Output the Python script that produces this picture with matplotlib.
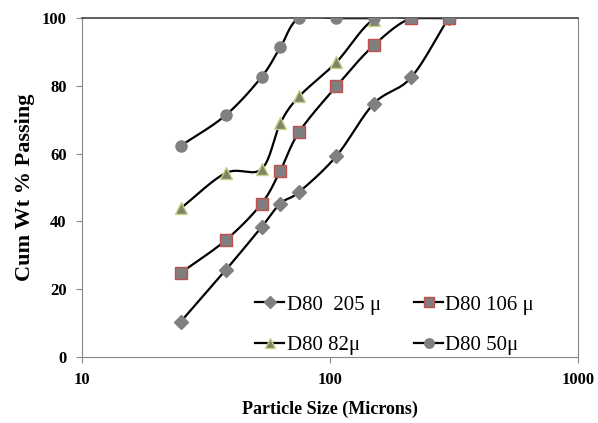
import numpy as np
import matplotlib
matplotlib.use("Agg")
from matplotlib import pyplot as plt

# sieve sizes (microns)
sizes = [25, 38, 53, 63, 75, 106, 150, 212, 300]

d80_205 = [10.4, 25.7, 38.4, 45.3, 48.7, 59.3, 74.8, 82.5, 100]
d80_106 = [24.8, 34.5, 45.3, 55.0, 66.4, 79.9, 92.0, 100, 100]
d80_82 = [43.9, 54.3, 55.5, 69.0, 76.9, 87.0, 99.6, 100, 100]
d80_50 = [62.3, 71.4, 82.7, 91.4, 100, 100, 100]

labels = ["D80  205 \u03bc", "D80 106 \u03bc", "D80 82\u03bc", "D80 50\u03bc"]

plt.rcParams['font.family'] = ['Liberation Serif', 'DejaVu Serif']


def smooth(xs, ys, n=20):
    # catmull-rom curve through the points, in log-x space (like excel smoothed lines)
    lx = np.log10(np.asarray(xs, float))
    y = np.asarray(ys, float)
    px = np.concatenate([[2 * lx[0] - lx[1]], lx, [2 * lx[-1] - lx[-2]]])
    py = np.concatenate([[2 * y[0] - y[1]], y, [2 * y[-1] - y[-2]]])
    outx, outy = [], []
    t = np.linspace(0, 1, n)
    for i in range(1, len(px) - 2):
        for arr, out in ((px, outx), (py, outy)):
            p0, p1, p2, p3 = arr[i - 1], arr[i], arr[i + 1], arr[i + 2]
            m1 = (p2 - p0) / 6.0
            m2 = (p3 - p1) / 6.0
            b = ((1 - t) ** 3 * p1 + 3 * (1 - t) ** 2 * t * (p1 + m1)
                 + 3 * (1 - t) * t ** 2 * (p2 - m2) + t ** 3 * p2)
            out.extend(b)
    return 10 ** np.array(outx), np.array(outy)


fig = plt.figure(figsize=(5.98, 4.23), dpi=100)
ax = fig.add_axes([0.137, 0.156, 0.830, 0.801])

series = [
    (sizes, d80_205, 'D', '#808080', '#808080', 7, 3),
    (sizes, d80_106, 's', '#7f7f7f', '#c0504d', 9, 5),
    (sizes, d80_82, '^', '#7f8566', '#c4d48a', 9, 4),
    (sizes[:len(d80_50)], d80_50, 'o', '#808080', '#808080', 8, 6),
]

handles = []
for (xs, ys, m, fc, ec, ms, z), lab in zip(series, labels):
    sx, sy = smooth(xs, ys)
    ax.plot(sx, sy, color='black', lw=1.6, zorder=2)
    ax.plot(xs, ys, ls='none', marker=m, ms=ms, mfc=fc, mec=ec, mew=1.0, zorder=z)
    h, = ax.plot([], [], color='black', lw=1.6, marker=m, ms=ms * 0.85, mfc=fc,
                 mec=ec, label=lab)
    handles.append(h)

ax.set_xscale('log')
ax.set_xlim(10, 1000)
ax.set_ylim(0, 100)
ax.set_yticks([0, 20, 40, 60, 80, 100])
ax.set_xticks([10, 100, 1000])
ax.set_xticklabels(['10', '100', '1000'])
ax.minorticks_off()
ax.tick_params(axis='both', direction='out', length=4, color='#888888',
               labelsize=12, pad=7)
for t in ax.get_xticklabels() + ax.get_yticklabels():
    t.set_fontweight('bold')

for s in ['left', 'bottom', 'right']:
    ax.spines[s].set_color('#888888')
ax.spines['top'].set_color('#333333')
ax.spines['top'].set_linewidth(1.1)

ax.set_xlabel('Particle Size (Microns)', fontsize=13, fontweight='bold', labelpad=9)
ax.set_ylabel('Cum Wt % Passing', fontsize=16, fontweight='bold', labelpad=5)

# row-major legend order: 205, 106 / 82, 50
order = [0, 2, 1, 3]
leg = ax.legend([handles[i] for i in order], [labels[i] for i in order],
                ncol=2, frameon=False, fontsize=15, loc='center',
                bbox_to_anchor=(0.63, 0.094), handlelength=1.4,
                handletextpad=0.1, columnspacing=1.6, labelspacing=1.0)

fig.savefig('out.png', dpi=100)
